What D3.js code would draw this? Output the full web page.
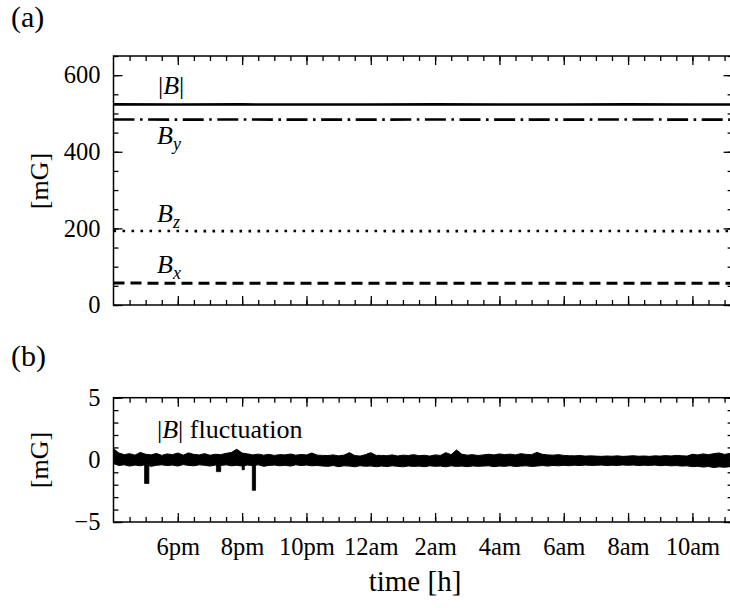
<!DOCTYPE html>
<html>
<head>
<meta charset="utf-8">
<script src="https://cdn.jsdelivr.net/npm/d3@7"></script>
<style>
  html, body { margin: 0; padding: 0; background: #fff; }
  svg { display: block; font-family: "Liberation Serif", "Times New Roman", serif; }
</style>
</head>
<body>
<svg id="chart" width="730" height="608"></svg>
<script>
// ---- data -------------------------------------------------------------
// Time window of the recording (afternoon to late morning next day)
const timeStart = "16:00";
const timeEnd = "11:15";

// Major (labelled) time ticks
const hourTicks = ["18:00", "20:00", "22:00", "00:00", "02:00", "04:00", "06:00", "08:00", "10:00"];
const hourLabels = ["6pm", "8pm", "10pm", "12am", "2am", "4am", "6am", "8am", "10am"];

// Field components [mG], sampled every two hours
const fieldTimes = ["16:00", "18:00", "20:00", "22:00", "00:00", "02:00", "04:00", "06:00", "08:00", "10:00", "11:15"];
const fieldMag = [523.8, 523.5, 523.6, 523.4, 523.5, 523.6, 523.4, 523.5, 523.6, 523.5, 523.4];
const fieldBy  = [484.2, 484.0, 484.1, 483.9, 484.0, 484.1, 483.9, 484.0, 484.1, 484.0, 483.9];
const fieldBz  = [193.1, 193.0, 192.9, 193.1, 193.0, 192.9, 193.0, 193.1, 193.0, 192.9, 193.0];
const fieldBx  = [57.2, 57.0, 57.1, 56.9, 57.0, 57.1, 56.9, 57.0, 57.1, 57.0, 56.9];

// |B| fluctuation envelope [mG]: upper / lower extent every 10 minutes from 16:00
const flucStepMinutes = 10;
const flucHigh = [
  0.90, 0.55, 0.42, 0.50, 0.38, 0.60, 0.45, 0.40, 0.52, 0.36,
  0.48, 0.42, 0.55, 0.38, 0.56, 0.44, 0.40, 0.50, 0.37, 0.45,
  0.42, 0.52, 0.60, 0.85, 0.55, 0.48, 0.40, 0.46, 0.38, 0.44,
  0.36, 0.42, 0.40, 0.47, 0.38, 0.43, 0.40, 0.55, 0.38, 0.36,
  0.34, 0.40, 0.32, 0.38, 0.58, 0.35, 0.30, 0.42, 0.58, 0.36,
  0.36, 0.33, 0.40, 0.31, 0.38, 0.35, 0.42, 0.33, 0.37, 0.30,
  0.40, 0.36, 0.58, 0.42, 0.80, 0.45, 0.38, 0.42, 0.35, 0.40,
  0.45, 0.40, 0.48, 0.42, 0.46, 0.40, 0.50, 0.44, 0.42, 0.60,
  0.45, 0.40, 0.38, 0.42, 0.36, 0.33, 0.32, 0.35, 0.30, 0.32,
  0.30, 0.28, 0.31, 0.29, 0.32, 0.28, 0.30, 0.33, 0.29, 0.31,
  0.28, 0.32, 0.30, 0.34, 0.31, 0.36, 0.33, 0.30, 0.45, 0.40,
  0.48, 0.42, 0.50, 0.55, 0.44, 0.52
];
const flucLow = [
  -0.30, -0.45, -0.40, -0.50, -0.42, -0.48, -0.38, -0.52, -0.44, -0.40,
  -0.46, -0.42, -0.50, -0.38, -0.45, -0.48, -0.40, -0.44, -0.50, -0.42,
  -0.45, -0.40, -0.48, -0.44, -0.50, -0.42, -0.46, -0.40, -0.52, -0.45,
  -0.42, -0.48, -0.44, -0.50, -0.40, -0.46, -0.42, -0.48, -0.45, -0.50,
  -0.52, -0.46, -0.55, -0.48, -0.50, -0.56, -0.47, -0.52, -0.49, -0.55,
  -0.50, -0.54, -0.48, -0.52, -0.56, -0.49, -0.53, -0.50, -0.55, -0.48,
  -0.52, -0.50, -0.56, -0.48, -0.53, -0.50, -0.55, -0.49, -0.52, -0.50,
  -0.48, -0.55, -0.50, -0.52, -0.47, -0.54, -0.50, -0.48, -0.53, -0.50,
  -0.46, -0.50, -0.45, -0.48, -0.44, -0.47, -0.43, -0.46, -0.42, -0.45,
  -0.44, -0.42, -0.46, -0.43, -0.45, -0.41, -0.44, -0.42, -0.46, -0.43,
  -0.45, -0.42, -0.47, -0.44, -0.48, -0.46, -0.50, -0.48, -0.55, -0.52,
  -0.58, -0.54, -0.62, -0.56, -0.60, -0.55
];

// Short drops of |B|
const dipStart = ["16:58", "19:12", "20:00", "20:19"];
const dipEnd   = ["17:06", "19:20", "20:04", "20:25"];
const dipLow   = [-1.9, -0.95, -0.8, -2.45];

// ---- helpers ----------------------------------------------------------
const day0 = new Date(2015, 5, 1);
function at(hhmm) {
  const [h, m] = hhmm.split(":").map(Number);
  const d = new Date(day0);
  d.setHours(h < 16 ? h + 24 : h, m, 0, 0);
  return d;
}

const svg = d3.select("#chart");
const left = 113.5, right = 732.6;
const W = right - left;

const x = d3.scaleTime().domain([at(timeStart), at(timeEnd)]).range([0, W]);
const majorX = hourTicks.map(at);
const minorX = d3.timeMinute.every(30).range(at("16:30"), at("11:15"));

function styleAxis(g) {
  g.attr("font-family", null).attr("font-size", null);
  g.select(".domain").remove();
  g.selectAll("line").attr("stroke", "#000").attr("stroke-width", 1.3);
  g.selectAll("text").attr("font-size", 24.5).attr("fill", "#000");
}

function panel(top, height, yDomain, yMajor, yMinor, showTimeLabels) {
  const g = svg.append("g").attr("transform", `translate(${left},${top})`);
  const y = d3.scaleLinear().domain(yDomain).range([height, 0]);

  // minor ticks on all four sides
  g.append("g").attr("transform", `translate(0,${height})`)
    .call(d3.axisBottom(x).tickValues(minorX).tickSizeInner(-5).tickSizeOuter(0).tickFormat(""))
    .call(styleAxis);
  g.append("g")
    .call(d3.axisTop(x).tickValues(minorX).tickSizeInner(-5).tickSizeOuter(0).tickFormat(""))
    .call(styleAxis);
  g.append("g")
    .call(d3.axisLeft(y).tickValues(yMinor).tickSizeInner(-5).tickSizeOuter(0).tickFormat(""))
    .call(styleAxis);
  g.append("g").attr("transform", `translate(${W},0)`)
    .call(d3.axisRight(y).tickValues(yMinor).tickSizeInner(-5).tickSizeOuter(0).tickFormat(""))
    .call(styleAxis);

  // major ticks
  g.append("g").attr("transform", `translate(0,${height})`)
    .call(d3.axisBottom(x).tickValues(majorX).tickSizeInner(-9).tickSizeOuter(0)
      .tickPadding(16)
      .tickFormat((d, i) => showTimeLabels ? hourLabels[i] : ""))
    .call(styleAxis);
  g.append("g")
    .call(d3.axisTop(x).tickValues(majorX).tickSizeInner(-9).tickSizeOuter(0).tickFormat(""))
    .call(styleAxis);
  g.append("g")
    .call(d3.axisLeft(y).tickValues(yMajor).tickSizeInner(-9).tickSizeOuter(0).tickPadding(13)
      .tickFormat(d3.format("d")))
    .call(styleAxis);
  g.append("g").attr("transform", `translate(${W},0)`)
    .call(d3.axisRight(y).tickValues(yMajor).tickSizeInner(-9).tickSizeOuter(0).tickFormat(""))
    .call(styleAxis);

  // frame
  g.append("rect").attr("width", W).attr("height", height)
    .attr("fill", "none").attr("stroke", "#000").attr("stroke-width", 1.5);

  return { g, y };
}

// ---- panel (a): field components --------------------------------------
const yTopMinor = d3.range(0, 651, 50);
const pa = panel(56, 249, [0, 650], [0, 200, 400, 600], yTopMinor, false);

const fieldSeries = [
  { values: fieldMag, dash: null, width: 2.6 },
  { values: fieldBy, dash: "21,5.5,2.6,5.5", width: 2.6 },
  { values: fieldBz, dash: "2.6,6.4", width: 2.6 },
  { values: fieldBx, dash: "11,6", width: 3 }
];
const fieldLine = d3.line().x(d => x(d.t)).y(d => pa.y(d.v));
fieldSeries.forEach(s => {
  const pts = fieldTimes.map((t, i) => ({ t: at(t), v: s.values[i] }));
  pa.g.append("path").datum(pts)
    .attr("d", fieldLine)
    .attr("fill", "none").attr("stroke", "#000")
    .attr("stroke-width", s.width)
    .attr("stroke-dasharray", s.dash);
});

// series labels
function compLabel(xp, yp, sub) {
  const t = svg.append("text").attr("x", xp).attr("y", yp).attr("font-size", 26);
  t.append("tspan").attr("font-style", "italic").text("B");
  t.append("tspan").attr("font-style", "italic").attr("font-size", 18).attr("dy", 6).text(sub);
}
const magLabel = svg.append("text").attr("x", 158).attr("y", 94).attr("font-size", 26);
magLabel.append("tspan").text("|");
magLabel.append("tspan").attr("font-style", "italic").text("B");
magLabel.append("tspan").text("|");
compLabel(157, 144, "y");
compLabel(157, 222, "z");
compLabel(157, 273, "x");

// ---- panel (b): |B| fluctuation ----------------------------------------
const pb = panel(397.7, 124.3, [-5, 5], [-5, 0, 5], d3.range(-5, 6, 1), true);

const flucData = flucHigh.map((h, i) => ({
  t: d3.timeMinute.offset(at(timeStart), i * flucStepMinutes),
  hi: h,
  lo: flucLow[i]
}));
const band = d3.area().x(d => x(d.t)).y0(d => pb.y(d.lo)).y1(d => pb.y(d.hi));
pb.g.append("path").datum(flucData).attr("d", band)
  .attr("fill", "#000").attr("stroke", "#000").attr("stroke-width", 1)
  .attr("stroke-linejoin", "round");

dipStart.forEach((s, i) => {
  const seg = [{ t: at(s), lo: dipLow[i] }, { t: at(dipEnd[i]), lo: dipLow[i] }];
  pb.g.append("path").datum(seg)
    .attr("d", d3.area().x(d => x(d.t)).y0(d => pb.y(d.lo)).y1(pb.y(0)))
    .attr("fill", "#000").attr("stroke", "#000").attr("stroke-width", 0.8)
    .attr("stroke-linejoin", "round");
});

const flucLabel = svg.append("text").attr("x", 157).attr("y", 438).attr("font-size", 26);
flucLabel.append("tspan").text("|");
flucLabel.append("tspan").attr("font-style", "italic").text("B");
flucLabel.append("tspan").text("| fluctuation");

// ---- panel letters and axis titles --------------------------------------
svg.append("text").attr("x", 11).attr("y", 27).attr("font-size", 30).text("(a)");
svg.append("text").attr("x", 11).attr("y", 366).attr("font-size", 30).text("(b)");

svg.append("text").attr("transform", "translate(48,181) rotate(-90)")
  .attr("text-anchor", "middle").attr("font-size", 26).text("[mG]");
svg.append("text").attr("transform", "translate(48,460) rotate(-90)")
  .attr("text-anchor", "middle").attr("font-size", 26).text("[mG]");

svg.append("text").attr("x", 415).attr("y", 591)
  .attr("text-anchor", "middle").attr("font-size", 29).text("time [h]");
</script>
</body>
</html>
